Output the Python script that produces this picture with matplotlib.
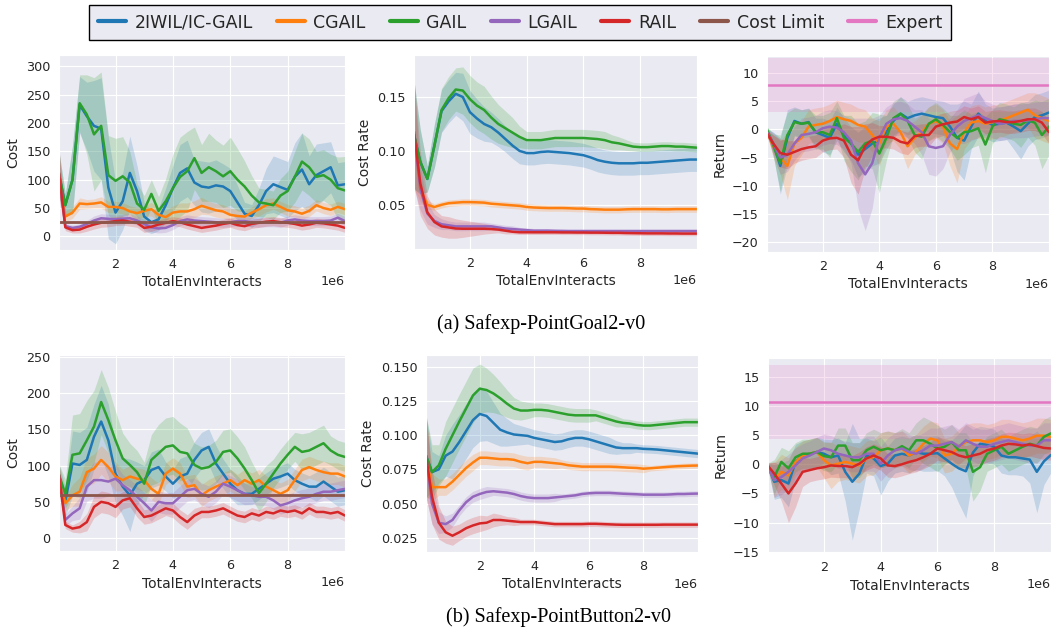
import numpy as np
import matplotlib
matplotlib.use("Agg")
import matplotlib.pyplot as plt
import seaborn as sns

# x positions in units of 1e6 environment interactions
X = [0.03, 0.25, 0.5, 0.75, 1.0, 1.25, 1.5, 1.75, 2.0, 2.25, 2.5, 2.75, 3.0, 3.25, 3.5, 3.75,
     4.0, 4.25, 4.5, 4.75, 5.0, 5.25, 5.5, 5.75, 6.0, 6.25, 6.5, 6.75, 7.0, 7.25, 7.5, 7.75,
     8.0, 8.25, 8.5, 8.75, 9.0, 9.25, 9.5, 9.75, 10.0]

methods = ["2IWIL/IC-GAIL", "CGAIL", "GAIL", "LGAIL", "RAIL"]
method_colors = ["#1f77b4", "#ff7f0e", "#2ca02c", "#9467bd", "#d62728"]
cost_limit_color = "#8c564b"
expert_color = "#e377c2"

# ---------------- (a) PointGoal2 : Cost ----------------
goal_cost_iwil = [110, 55, 100, 232, 212, 195, 190, 86, 42, 62, 112, 80, 35, 25, 30, 55, 85, 112, 120, 95, 88,
                  86, 90, 88, 80, 60, 40, 36, 55, 80, 92, 87, 82, 105, 118, 92, 108, 115, 122, 90, 92]
goal_cost_cgail = [110, 35, 42, 58, 57, 58, 60, 52, 52, 50, 44, 41, 45, 48, 38, 34, 42, 44, 44, 48, 54,
                   50, 46, 44, 38, 36, 35, 42, 48, 55, 58, 52, 46, 44, 40, 45, 55, 50, 47, 52, 48]
goal_cost_gail = [110, 55, 100, 235, 215, 180, 195, 108, 98, 106, 95, 58, 47, 75, 45, 62, 85, 105, 115, 138, 112,
                  122, 115, 106, 115, 100, 88, 72, 60, 58, 55, 72, 80, 105, 132, 122, 105, 108, 100, 85, 81]
goal_cost_lgail = [110, 18, 15, 17, 22, 28, 32, 31, 30, 31, 32, 28, 22, 16, 14, 15, 20, 27, 30, 28, 27,
                   26, 25, 24, 25, 27, 27, 25, 24, 25, 25, 24, 28, 30, 28, 27, 27, 27, 28, 33, 27]
goal_cost_rail = [112, 16, 11, 12, 17, 21, 24, 25, 27, 28, 26, 24, 15, 17, 21, 24, 27, 25, 21, 18, 15,
                  17, 19, 22, 24, 20, 18, 22, 24, 26, 27, 25, 24, 22, 19, 21, 24, 23, 21, 19, 15]
goal_cost_iwil_sd = [40, 20, 60, 50, 60, 80, 90, 90, 55, 50, 65, 45, 25, 20, 20, 30, 40, 50, 50, 40, 45,
                     45, 45, 40, 40, 30, 20, 20, 30, 40, 50, 50, 50, 60, 65, 50, 55, 50, 45, 40, 40]
goal_cost_cgail_sd = [40, 10, 10, 10, 8, 8, 10, 10, 10, 10, 10, 10, 10, 12, 12, 12, 12, 15, 15, 15, 15,
                      12, 12, 12, 12, 12, 10, 10, 12, 12, 10, 10, 10, 10, 10, 10, 10, 10, 10, 10, 10]
goal_cost_gail_sd = [40, 20, 60, 50, 70, 100, 95, 70, 75, 70, 55, 35, 25, 25, 25, 40, 60, 70, 70, 55, 50,
                     60, 55, 55, 60, 55, 45, 35, 25, 25, 25, 30, 35, 45, 50, 50, 45, 45, 45, 55, 60]
goal_cost_lgail_sd = [40, 5, 5, 5, 6, 8, 8, 8, 8, 8, 8, 8, 8, 8, 8, 8, 8, 8, 8, 8, 8,
                      8, 8, 8, 8, 8, 8, 8, 8, 8, 8, 8, 8, 8, 8, 8, 8, 8, 8, 8, 8]
goal_cost_rail_sd = [45, 6, 5, 6, 8, 8, 8, 8, 8, 8, 8, 8, 8, 8, 8, 8, 8, 8, 8, 8, 8,
                     8, 8, 8, 8, 8, 8, 8, 8, 8, 8, 8, 8, 8, 8, 8, 8, 8, 8, 8, 8]
goal_cost_limit = 25

# ---------------- (a) PointGoal2 : Cost Rate ----------------
goal_rate_iwil = [0.115, 0.090, 0.074, 0.105, 0.137, 0.146, 0.153, 0.150, 0.136, 0.130, 0.125, 0.122, 0.117, 0.111,
                  0.105, 0.100, 0.098, 0.098, 0.099, 0.0995, 0.099, 0.0985, 0.098, 0.097, 0.096, 0.094, 0.0915,
                  0.090, 0.089, 0.0885, 0.0885, 0.0885, 0.089, 0.089, 0.0895, 0.090, 0.0905, 0.091, 0.0915, 0.092, 0.092]
goal_rate_cgail = [0.115, 0.065, 0.050, 0.048, 0.050, 0.0515, 0.052, 0.0525, 0.0525, 0.0523, 0.052, 0.051, 0.0505,
                   0.050, 0.0495, 0.049, 0.048, 0.0475, 0.0472, 0.047, 0.047, 0.047, 0.0468, 0.0465, 0.0465, 0.046,
                   0.0458, 0.0455, 0.0455, 0.0455, 0.0458, 0.046, 0.046, 0.046, 0.046, 0.0458, 0.0458, 0.046, 0.046, 0.046, 0.046]
goal_rate_gail = [0.115, 0.090, 0.074, 0.105, 0.138, 0.149, 0.157, 0.156, 0.148, 0.142, 0.138, 0.131, 0.125, 0.121,
                  0.117, 0.113, 0.110, 0.110, 0.110, 0.111, 0.112, 0.112, 0.112, 0.112, 0.112, 0.1115, 0.111, 0.110,
                  0.108, 0.107, 0.1055, 0.104, 0.1035, 0.1035, 0.104, 0.1045, 0.1045, 0.104, 0.104, 0.1035, 0.103]
goal_rate_lgail = [0.115, 0.065, 0.042, 0.035, 0.032, 0.031, 0.030, 0.030, 0.030, 0.030, 0.030, 0.030, 0.029, 0.028,
                   0.0275, 0.027, 0.0265, 0.026, 0.026, 0.026, 0.0258, 0.0257, 0.0256, 0.0256, 0.0256, 0.0256, 0.0256,
                   0.0256, 0.0256, 0.0256, 0.0256, 0.0256, 0.0256, 0.0256, 0.0256, 0.0256, 0.0256, 0.0256, 0.0256, 0.0256, 0.0256]
goal_rate_rail = [0.118, 0.070, 0.043, 0.034, 0.030, 0.029, 0.028, 0.0278, 0.0278, 0.0278, 0.0278, 0.0275, 0.027,
                  0.026, 0.025, 0.0245, 0.0245, 0.0245, 0.0245, 0.0245, 0.0245, 0.0244, 0.0244, 0.0243, 0.0243, 0.0242,
                  0.0242, 0.0241, 0.024, 0.024, 0.0238, 0.0237, 0.0236, 0.0235, 0.0235, 0.0235, 0.0234, 0.0234, 0.0233, 0.0233, 0.0233]
goal_rate_iwil_sd = [0.05, 0.03, 0.012, 0.02, 0.02, 0.02, 0.02, 0.022, 0.02, 0.018, 0.016, 0.014, 0.013, 0.012,
                     0.012, 0.012, 0.011, 0.011, 0.011, 0.011, 0.011, 0.011, 0.011, 0.011, 0.011, 0.011, 0.011, 0.011,
                     0.011, 0.011, 0.011, 0.011, 0.011, 0.011, 0.011, 0.011, 0.011, 0.011, 0.011, 0.011, 0.011]
goal_rate_cgail_sd = [0.05, 0.012, 0.004, 0.003, 0.003, 0.003, 0.003, 0.003, 0.003, 0.003, 0.003, 0.003, 0.003, 0.003,
                      0.003, 0.003, 0.003, 0.003, 0.003, 0.003, 0.003, 0.003, 0.003, 0.003, 0.003, 0.003, 0.003, 0.003,
                      0.003, 0.003, 0.003, 0.003, 0.003, 0.003, 0.003, 0.003, 0.003, 0.003, 0.003, 0.003, 0.003]
goal_rate_gail_sd = [0.05, 0.03, 0.012, 0.02, 0.02, 0.02, 0.02, 0.022, 0.022, 0.022, 0.022, 0.02, 0.018, 0.016,
                     0.014, 0.01, 0.008, 0.008, 0.008, 0.008, 0.008, 0.008, 0.008, 0.008, 0.008, 0.008, 0.008, 0.008,
                     0.007, 0.006, 0.005, 0.004, 0.004, 0.004, 0.004, 0.004, 0.004, 0.004, 0.004, 0.004, 0.004]
goal_rate_lgail_sd = [0.05, 0.02, 0.01, 0.006, 0.005, 0.004, 0.004, 0.004, 0.004, 0.004, 0.004, 0.003, 0.003, 0.003,
                      0.003, 0.002, 0.002, 0.002, 0.002, 0.002, 0.002, 0.002, 0.002, 0.002, 0.002, 0.002, 0.002, 0.002,
                      0.002, 0.002, 0.002, 0.002, 0.002, 0.002, 0.002, 0.002, 0.002, 0.002, 0.002, 0.002, 0.002]
goal_rate_rail_sd = [0.05, 0.03, 0.015, 0.012, 0.01, 0.01, 0.009, 0.008, 0.007, 0.006, 0.005, 0.004, 0.003, 0.003,
                     0.002, 0.002, 0.002, 0.002, 0.002, 0.002, 0.002, 0.002, 0.002, 0.002, 0.002, 0.002, 0.002, 0.002,
                     0.002, 0.002, 0.002, 0.002, 0.002, 0.002, 0.002, 0.002, 0.002, 0.002, 0.002, 0.002, 0.002]

# ---------------- (a) PointGoal2 : Return ----------------
goal_ret_iwil = [-0.3, -2.5, -6.5, -1.5, 1.5, 1.0, 1.3, -0.5, -1.0, -1.5, 1.0, -1.0, -2.5, -4.5, -3.5, -2.5, -2.0,
                 -0.5, 1.5, 2.8, 2.0, 2.5, 2.8, 2.5, 2.2, 2.0, 0.5, -1.5, -2.0, 0.5, 2.8, 1.5, 0.8, 1.0, 1.2, 0.5,
                 -0.3, 1.0, 2.2, 2.5, 3.0]
goal_ret_cgail = [-0.5, -3.0, -5.0, -6.5, -2.5, -1.5, 0.5, 0.8, 1.0, 1.5, 2.2, 1.8, 1.5, 0.8, 0.5, -1.0, -2.5,
                  0.5, 1.0, -0.5, -3.0, -1.5, -0.5, 1.0, 1.5, 0.5, -2.5, -3.5, -0.5, 1.2, 1.5, 1.0, 1.3, 1.5, 2.0,
                  2.5, 3.0, 3.5, 2.5, 2.0, 1.5]
goal_ret_gail = [0.0, -2.8, -6.0, -1.0, 1.3, 1.0, 1.2, -0.5, -0.5, -1.0, 2.0, -1.5, -2.5, -4.0, -2.5, -2.0, -4.3,
                 -1.5, 2.0, 2.8, 1.5, -1.0, -1.3, 1.0, 1.8, 0.8, -0.5, -1.5, -0.5, -0.3, 0.2, -2.7, 0.5, 1.8, 1.5,
                 1.0, 0.8, 1.6, 1.2, -1.0, 0.5]
goal_ret_lgail = [-0.5, -2.5, -5.0, -4.5, -2.5, -1.0, -0.8, -0.5, 0.2, 0.5, 0.3, -0.5, -2.0, -6.0, -8.0, -6.0, -1.5,
                  1.0, 1.8, 2.0, 1.5, 0.5, -0.5, -3.0, -3.3, -3.0, -1.0, 0.5, 1.5, 2.0, 2.5, 2.0, 1.5, 1.0, 1.2, 1.5,
                  1.5, 1.6, 1.8, 2.0, 2.0]
goal_ret_rail = [-0.7, -2.5, -4.2, -4.5, -4.0, -3.5, -3.2, -3.0, -2.0, -1.6, -1.5, -2.0, -4.5, -5.5, -3.0, -1.8,
                 -1.3, -1.3, -1.5, -2.2, -2.5, -1.2, -1.0, -1.0, 0.5, 0.9, 1.2, 1.4, 2.2, 1.8, 2.2, 1.2, 1.4, 1.5,
                 1.3, 1.3, 1.5, 1.8, 1.8, 1.2, -0.5]
goal_ret_iwil_sd = [0.5, 2, 5, 5, 2.5, 2.5, 2.5, 2.5, 3, 3, 3, 3, 3, 4, 4, 4, 4, 3, 3, 3, 3, 3, 3, 3, 3, 3, 4, 6, 7,
                    4, 4, 3, 3, 3, 3, 4, 5, 4, 4, 4, 4]
goal_ret_cgail_sd = [0.5, 2, 3, 6, 4, 3, 3, 3, 3, 3, 3, 3, 3, 3, 3, 3, 4, 3, 3, 3, 4, 3, 3, 3, 3, 3, 4, 6, 3, 3, 3,
                     3, 3, 3, 3, 3, 3, 3, 4, 4, 4]
goal_ret_gail_sd = [0.5, 2, 5, 4, 2.5, 2.5, 2.5, 3, 3, 4, 3, 4, 5, 5, 4, 5, 7, 4, 3, 3, 3, 3, 4, 3, 3, 3, 3, 4, 4, 3,
                    3, 5, 3, 3, 3, 3, 4, 3, 4, 6, 5]
goal_ret_lgail_sd = [0.5, 2, 3, 3, 3, 3, 3, 3, 3, 3, 3, 3, 4, 8, 10, 8, 4, 3, 3, 3, 3, 3, 4, 5, 5, 4, 3, 3, 4, 4, 4,
                     3, 3, 3, 3, 3, 3, 3, 3, 3, 3]
goal_ret_rail_sd = [0.5, 1.5, 2.5, 2.5, 2, 2, 2, 2, 2, 2, 2, 3, 5, 6, 4, 3, 2, 2, 2, 2, 2, 2, 2, 2, 2, 2, 2, 2, 2, 2,
                    2, 2, 2, 2, 2, 2, 2, 2, 2, 2, 2]
goal_expert = 7.9
goal_expert_sd = 4.75

# ---------------- (b) PointButton2 : Cost ----------------
button_cost_iwil = [87, 50, 103, 101, 108, 140, 161, 135, 89, 71, 59, 75, 80, 94, 98, 85, 75, 85, 89, 108, 121,
                    126, 103, 89, 75, 66, 61, 61, 68, 75, 82, 85, 89, 80, 75, 71, 71, 78, 71, 64, 66]
button_cost_cgail = [87, 48, 59, 64, 91, 96, 108, 98, 85, 80, 85, 82, 80, 68, 61, 89, 96, 89, 71, 73, 59,
                     66, 71, 75, 80, 73, 80, 75, 80, 71, 66, 61, 66, 80, 94, 98, 94, 91, 89, 89, 85]
button_cost_gail = [87, 61, 115, 117, 135, 154, 188, 163, 135, 110, 101, 91, 75, 108, 117, 126, 128, 119, 117, 101,
                    96, 98, 105, 119, 121, 110, 96, 80, 62, 75, 89, 103, 115, 126, 119, 121, 126, 131, 121, 115, 112]
button_cost_lgail = [87, 25, 34, 41, 71, 80, 80, 78, 82, 73, 66, 57, 48, 38, 50, 48, 48, 57, 66, 68, 61,
                     57, 64, 75, 71, 66, 61, 59, 57, 57, 52, 45, 48, 52, 55, 57, 61, 64, 64, 66, 68]
button_cost_rail = [87, 18, 13, 15, 22, 43, 50, 48, 43, 52, 55, 41, 29, 31, 36, 41, 38, 29, 22, 31, 36,
                    36, 38, 41, 36, 31, 29, 34, 31, 36, 34, 38, 36, 38, 34, 41, 36, 36, 34, 36, 31]
button_cost_iwil_sd = [15, 20, 45, 45, 45, 45, 50, 50, 40, 40, 50, 30, 20, 25, 25, 20, 20, 25, 25, 25, 25,
                       25, 25, 20, 20, 20, 15, 15, 15, 15, 15, 15, 15, 15, 15, 15, 20, 20, 20, 20, 20]
button_cost_cgail_sd = [15, 10, 15, 20, 20, 20, 20, 20, 20, 15, 15, 15, 15, 15, 15, 15, 15, 15, 15, 15, 15,
                        15, 15, 15, 15, 15, 15, 15, 15, 15, 15, 15, 15, 15, 15, 15, 15, 15, 15, 15, 15]
button_cost_gail_sd = [15, 20, 55, 55, 55, 50, 45, 45, 40, 35, 30, 30, 30, 35, 40, 40, 40, 40, 35, 30, 30,
                       30, 30, 30, 30, 30, 30, 25, 25, 25, 20, 20, 20, 20, 25, 25, 25, 25, 20, 20, 20]
button_cost_lgail_sd = [15, 8, 10, 15, 20, 25, 25, 20, 20, 15, 15, 15, 15, 15, 15, 15, 15, 15, 15, 15, 15,
                        15, 15, 15, 15, 15, 15, 12, 12, 12, 12, 12, 12, 12, 12, 12, 12, 12, 12, 12, 12]
button_cost_rail_sd = [15, 5, 5, 8, 12, 15, 15, 15, 15, 12, 12, 12, 10, 10, 10, 10, 10, 10, 10, 10, 8,
                       8, 8, 8, 8, 8, 8, 8, 8, 8, 8, 8, 8, 8, 8, 8, 8, 8, 8, 8, 8]
button_cost_limit = 60

# ---------------- (b) PointButton2 : Cost Rate ----------------
button_rate_iwil = [0.085, 0.073, 0.075, 0.085, 0.088, 0.095, 0.103, 0.111, 0.1155, 0.114, 0.109, 0.104, 0.102,
                    0.1005, 0.100, 0.0995, 0.098, 0.097, 0.096, 0.095, 0.0955, 0.097, 0.098, 0.098, 0.097, 0.0955,
                    0.094, 0.0925, 0.091, 0.0905, 0.0905, 0.0905, 0.090, 0.0898, 0.0895, 0.089, 0.0885, 0.088,
                    0.0875, 0.087, 0.0865]
button_rate_cgail = [0.085, 0.062, 0.062, 0.062, 0.066, 0.071, 0.076, 0.080, 0.0835, 0.0835, 0.083, 0.0825, 0.0825,
                     0.082, 0.0805, 0.0795, 0.0805, 0.0805, 0.080, 0.0795, 0.079, 0.078, 0.0775, 0.077, 0.077, 0.077,
                     0.077, 0.077, 0.0768, 0.0765, 0.0762, 0.076, 0.0755, 0.0758, 0.0762, 0.0766, 0.077, 0.0773,
                     0.0775, 0.0777, 0.0778]
button_rate_gail = [0.085, 0.073, 0.078, 0.090, 0.100, 0.110, 0.1195, 0.129, 0.134, 0.133, 0.1305, 0.127, 0.123,
                    0.1195, 0.118, 0.118, 0.1185, 0.1185, 0.118, 0.117, 0.116, 0.115, 0.1145, 0.1145, 0.1145, 0.1145,
                    0.113, 0.1115, 0.110, 0.109, 0.1085, 0.1075, 0.107, 0.107, 0.1075, 0.108, 0.1085, 0.109, 0.1095,
                    0.1095, 0.1095]
button_rate_lgail = [0.085, 0.050, 0.036, 0.035, 0.038, 0.045, 0.051, 0.055, 0.057, 0.0585, 0.059, 0.0585, 0.058,
                     0.057, 0.0555, 0.0545, 0.054, 0.054, 0.054, 0.0545, 0.055, 0.0555, 0.056, 0.057, 0.0575, 0.0578,
                     0.0578, 0.0578, 0.0575, 0.0572, 0.057, 0.0568, 0.0565, 0.0565, 0.0565, 0.0565, 0.0567, 0.057,
                     0.057, 0.0572, 0.0573]
button_rate_rail = [0.085, 0.055, 0.036, 0.029, 0.0265, 0.029, 0.032, 0.034, 0.0355, 0.036, 0.038, 0.038, 0.0375,
                    0.037, 0.0365, 0.0365, 0.0365, 0.036, 0.0355, 0.035, 0.035, 0.035, 0.035, 0.035, 0.0352, 0.0352,
                    0.035, 0.0348, 0.0346, 0.0345, 0.0345, 0.0345, 0.0345, 0.0345, 0.0345, 0.0346, 0.0346, 0.0346,
                    0.0346, 0.0346, 0.0346]
button_rate_iwil_sd = [0.03, 0.015, 0.01, 0.015, 0.02, 0.02, 0.02, 0.02, 0.02, 0.018, 0.015, 0.012, 0.01, 0.008,
                       0.007, 0.006, 0.006, 0.006, 0.006, 0.006, 0.006, 0.006, 0.006, 0.006, 0.006, 0.006, 0.006,
                       0.006, 0.005, 0.004, 0.004, 0.003, 0.003, 0.003, 0.003, 0.003, 0.003, 0.003, 0.003, 0.003, 0.003]
button_rate_cgail_sd = [0.03, 0.01, 0.006, 0.006, 0.006, 0.006, 0.006, 0.006, 0.005, 0.005, 0.005, 0.005, 0.005,
                        0.005, 0.005, 0.005, 0.004, 0.004, 0.004, 0.004, 0.003, 0.003, 0.003, 0.003, 0.003, 0.003,
                        0.003, 0.003, 0.003, 0.003, 0.003, 0.003, 0.003, 0.002, 0.002, 0.002, 0.002, 0.002, 0.002,
                        0.002, 0.002]
button_rate_gail_sd = [0.03, 0.02, 0.015, 0.02, 0.02, 0.02, 0.02, 0.02, 0.018, 0.016, 0.014, 0.012, 0.01, 0.008,
                       0.007, 0.006, 0.005, 0.005, 0.005, 0.005, 0.005, 0.005, 0.005, 0.005, 0.005, 0.004, 0.004,
                       0.004, 0.004, 0.003, 0.003, 0.003, 0.003, 0.003, 0.003, 0.003, 0.003, 0.003, 0.003, 0.003, 0.003]
button_rate_lgail_sd = [0.03, 0.015, 0.008, 0.006, 0.005, 0.004, 0.004, 0.004, 0.004, 0.004, 0.003, 0.003, 0.003,
                        0.003, 0.003, 0.003, 0.003, 0.003, 0.003, 0.003, 0.002, 0.002, 0.002, 0.002, 0.002, 0.002,
                        0.002, 0.002, 0.002, 0.002, 0.002, 0.002, 0.002, 0.002, 0.002, 0.002, 0.002, 0.002, 0.002,
                        0.002, 0.002]
button_rate_rail_sd = [0.03, 0.02, 0.012, 0.008, 0.007, 0.006, 0.006, 0.006, 0.006, 0.005, 0.005, 0.004, 0.003,
                       0.003, 0.002, 0.002, 0.002, 0.002, 0.002, 0.002, 0.002, 0.002, 0.002, 0.002, 0.002, 0.002,
                       0.002, 0.002, 0.002, 0.002, 0.002, 0.002, 0.002, 0.002, 0.002, 0.002, 0.002, 0.002, 0.002,
                       0.002, 0.002]

# ---------------- (b) PointButton2 : Return ----------------
button_ret_iwil = [-0.3, -3.0, -2.7, -3.3, 0.4, 1.5, 1.8, 2.1, 1.8, 1.2, 1.5, -1.3, -3.0, -1.6, 1.5, 1.0, -0.3, 0.1,
                   1.5, 1.8, 1.5, 2.1, 1.8, 1.8, 1.9, 1.0, 0.1, -0.7, -1.2, 2.0, 3.5, 3.3, 3.0, 1.5, 1.2, 1.2, 1.0,
                   0.8, -1.3, 0.5, 1.6]
button_ret_cgail = [-0.3, -2.7, -1.3, -1.9, 0.4, 1.5, 1.8, 2.1, 0.7, -0.2, 0.1, 0.4, 0.1, -0.2, 1.0, 1.2, 2.4, 2.7,
                    2.4, 2.7, 1.5, 2.1, 3.5, 4.4, 4.1, 1.5, 1.8, 3.0, 3.8, 4.1, 4.1, 3.8, 4.1, 4.7, 4.7, 4.4, 4.1,
                    4.4, 4.9, 4.9, 4.7]
button_ret_gail = [-0.3, -2.2, 0.4, -0.7, 1.2, 1.8, 1.8, 2.1, 1.4, 1.2, 3.2, 3.2, 0.7, 0.7, 2.4, 3.0, 2.4, 2.7, 2.4,
                   3.1, 2.4, 4.1, 4.1, 3.5, 2.7, 3.0, 3.8, 2.4, 2.4, -1.3, -0.5, 1.8, 2.4, 3.0, 1.8, 2.4, 3.0, 3.5,
                   3.2, 4.7, 5.3]
button_ret_lgail = [-0.3, -2.7, -2.2, -1.3, -0.2, 1.0, 1.5, 2.1, 2.7, 2.4, 1.8, 1.5, 1.2, 1.2, 1.8, 1.8, 0.1, 1.5,
                    2.4, 2.7, 2.1, 1.8, 2.4, 3.2, 3.2, 3.5, 3.8, 3.0, 4.1, 3.5, 3.0, 3.0, 3.5, 3.8, 4.1, 3.8, 3.5,
                    3.2, 3.2, 4.1, 4.1]
button_ret_rail = [-0.3, -1.6, -3.3, -5.0, -3.3, -1.3, -1.0, -0.7, -0.5, -0.2, -0.3, -0.3, -0.5, 0.1, 1.0, 1.5, 1.0,
                   -0.2, -0.3, 0.0, 0.4, 0.7, 1.2, 1.8, 2.7, 2.4, 2.1, 1.5, 1.2, 1.5, 1.8, 2.4, 2.7, 3.2, 3.5, 3.4,
                   3.2, 3.4, 3.1, 2.8, 2.7]
button_ret_iwil_sd = [0.5, 3, 3, 4, 3, 2.5, 2.5, 2.5, 2.5, 3, 3, 5, 10, 6, 3, 3, 5, 3, 3, 3, 3, 3, 3, 3, 3, 3, 4, 6,
                      8, 4, 3, 3, 3, 3, 3, 3, 3, 4, 7, 4, 3]
button_ret_cgail_sd = [0.5, 3, 3, 3, 2.5, 2.5, 2.5, 2.5, 3, 4, 3, 3, 3, 3, 3, 3, 3, 3, 3, 3, 3, 3, 3, 3, 3, 3, 3,
                       3, 3, 3, 3, 3, 3, 3, 3, 3, 3, 3, 3, 3, 3]
button_ret_gail_sd = [0.5, 3, 2.5, 3, 2.5, 2.5, 2.5, 2.5, 2.5, 2.5, 3, 3, 3, 3, 3, 3, 3, 3, 3, 3, 3, 3, 4, 4, 4, 3,
                      3, 3, 3, 5, 4, 3, 3, 3, 3, 3, 3, 3, 3, 3, 3]
button_ret_lgail_sd = [0.5, 3, 3, 3, 3, 2.5, 2.5, 2.5, 2.5, 2.5, 2.5, 2.5, 2.5, 2.5, 3, 3, 3, 3, 3, 3, 3, 3, 3, 3,
                       3, 3, 3, 3, 3, 3, 3, 3, 3, 3, 3, 3, 3, 3, 3, 3, 3]
button_ret_rail_sd = [0.5, 2, 3, 5, 4, 2.5, 2, 2, 2, 2, 2, 2, 2, 2, 2, 2, 2, 2, 2, 2, 2, 2, 2, 2, 2, 2, 2, 2, 2, 2,
                      2, 2, 2, 2, 2, 2, 2, 2, 2, 2, 2]
button_expert = 10.7
button_expert_sd = 6.3

# ---------------------------------------------------------------
sns.set_style("darkgrid")
plt.rcParams["font.family"] = ["DejaVu Sans"]
TEXT = "#262626"

fig = plt.figure(figsize=(10.51, 6.30), dpi=100)
W, H = 1051.0, 630.0


def add_axes(left, top, right, bottom):
    return fig.add_axes([left / W, 1 - bottom / H, (right - left) / W, (bottom - top) / H])


xs = np.array(X) * 1e6


def draw_panel(ax, means, sds, ylabel, ylim, yticks, limit=None, expert=None):
    for m, s, c in zip(means, sds, method_colors):
        m = np.array(m, dtype=float)
        s = np.array(s, dtype=float)
        ax.fill_between(xs, m - s, m + s, color=c, alpha=0.2, linewidth=0)
        ax.plot(xs, m, color=c, lw=1.8)
    if limit is not None:
        ax.axhline(limit, color=cost_limit_color, lw=2.0)
    if expert is not None:
        ax.axhspan(expert[0] - expert[1], expert[0] + expert[1], color=expert_color, alpha=0.2, lw=0)
        ax.axhline(expert[0], color=expert_color, lw=1.8)
    ax.set_xlim(xs[0], xs[-1])
    ax.set_xticks([2e6, 4e6, 6e6, 8e6])
    ax.set_ylim(*ylim)
    ax.set_yticks(yticks)
    ax.set_xlabel("TotalEnvInteracts", fontsize=10, color=TEXT, labelpad=3)
    ax.set_ylabel(ylabel, fontsize=10, color=TEXT)
    ax.tick_params(labelsize=9.2, colors=TEXT, pad=2.5)
    ax.xaxis.get_offset_text().set_fontsize(9.2)
    ax.xaxis.get_offset_text().set_color(TEXT)


ax1 = add_axes(59, 55, 345, 250)
draw_panel(ax1, [goal_cost_iwil, goal_cost_cgail, goal_cost_gail, goal_cost_lgail, goal_cost_rail],
           [goal_cost_iwil_sd, goal_cost_cgail_sd, goal_cost_gail_sd, goal_cost_lgail_sd, goal_cost_rail_sd],
           "Cost", (-24, 320), [0, 50, 100, 150, 200, 250, 300], limit=goal_cost_limit)

ax2 = add_axes(414, 55, 697, 249)
draw_panel(ax2, [goal_rate_iwil, goal_rate_cgail, goal_rate_gail, goal_rate_lgail, goal_rate_rail],
           [goal_rate_iwil_sd, goal_rate_cgail_sd, goal_rate_gail_sd, goal_rate_lgail_sd, goal_rate_rail_sd],
           "Cost Rate", (0.009, 0.189), [0.05, 0.10, 0.15])

ax3 = add_axes(767, 56, 1049, 252)
draw_panel(ax3, [goal_ret_iwil, goal_ret_cgail, goal_ret_gail, goal_ret_lgail, goal_ret_rail],
           [goal_ret_iwil_sd, goal_ret_cgail_sd, goal_ret_gail_sd, goal_ret_lgail_sd, goal_ret_rail_sd],
           "Return", (-21.8, 13.05), [-20, -15, -10, -5, 0, 5, 10], expert=(goal_expert, goal_expert_sd))

ax4 = add_axes(59, 355, 345, 551)
draw_panel(ax4, [button_cost_iwil, button_cost_cgail, button_cost_gail, button_cost_lgail, button_cost_rail],
           [button_cost_iwil_sd, button_cost_cgail_sd, button_cost_gail_sd, button_cost_lgail_sd, button_cost_rail_sd],
           "Cost", (-18, 253), [0, 50, 100, 150, 200, 250], limit=button_cost_limit)

ax5 = add_axes(426, 355, 698, 552)
draw_panel(ax5, [button_rate_iwil, button_rate_cgail, button_rate_gail, button_rate_lgail, button_rate_rail],
           [button_rate_iwil_sd, button_rate_cgail_sd, button_rate_gail_sd, button_rate_lgail_sd, button_rate_rail_sd],
           "Cost Rate", (0.0146, 0.1586), [0.025, 0.050, 0.075, 0.100, 0.125, 0.150])

ax6 = add_axes(768, 358, 1051, 553)
draw_panel(ax6, [button_ret_iwil, button_ret_cgail, button_ret_gail, button_ret_lgail, button_ret_rail],
           [button_ret_iwil_sd, button_ret_cgail_sd, button_ret_gail_sd, button_ret_lgail_sd, button_ret_rail_sd],
           "Return", (-15.2, 18.2), [-15, -10, -5, 0, 5, 10, 15], expert=(button_expert, button_expert_sd))

# legend
handles = [plt.Line2D([], [], color=c, lw=3) for c in method_colors]
handles += [plt.Line2D([], [], color=cost_limit_color, lw=3), plt.Line2D([], [], color=expert_color, lw=3)]
labels = methods + ["Cost Limit", "Expert"]
leg = fig.legend(handles, labels, loc="center", bbox_to_anchor=(520 / W, 1 - 22.5 / H), ncol=7,
                 fontsize=12.5, frameon=True, fancybox=False, edgecolor="black", framealpha=1,
                 handlelength=1.6, handletextpad=0.5, columnspacing=1.4, borderpad=0.5)
leg.get_frame().set_linewidth(1.0)
for t in leg.get_texts():
    t.set_color(TEXT)

fig.text(541 / W, 1 - 324 / H, "(a) Safexp-PointGoal2-v0", ha="center", va="center",
         family="Liberation Serif", fontsize=14.5, color="black")
fig.text(558 / W, 1 - 617 / H, "(b) Safexp-PointButton2-v0", ha="center", va="center",
         family="Liberation Serif", fontsize=14.5, color="black")

fig.savefig("out.png", dpi=100)
